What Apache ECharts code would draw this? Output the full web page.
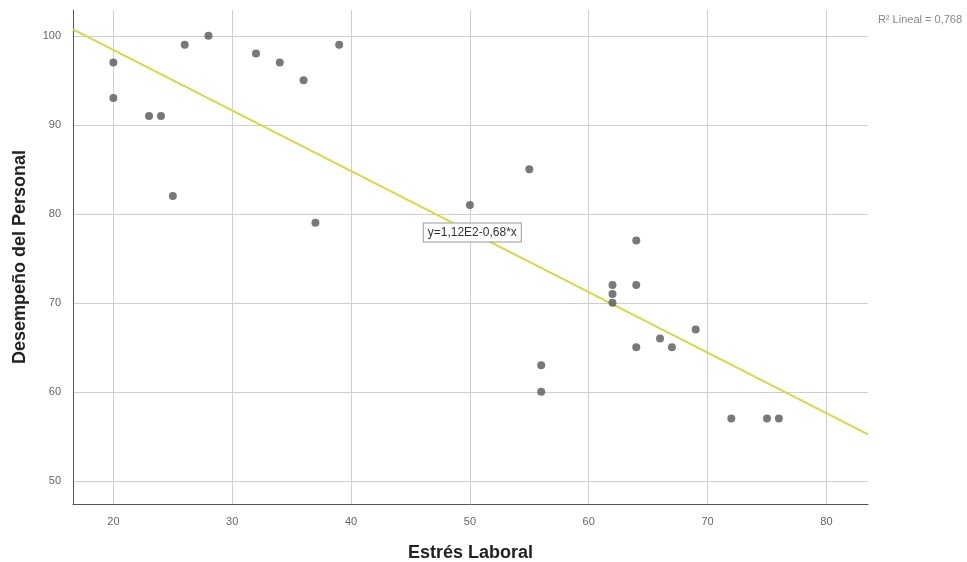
<!DOCTYPE html>
<html>
<head>
<meta charset="utf-8">
<script src="https://cdn.jsdelivr.net/npm/echarts@6/dist/echarts.min.js"></script>
<style>
  html, body { margin: 0; padding: 0; background: #fff; }
  #chart { width: 967px; height: 562px; }
</style>
</head>
<body>
<div id="chart"></div>
<script>
// Estrés laboral (x) vs. desempeño del personal (y)
const estres = [20, 20, 23, 24, 25, 26, 28, 32, 34, 36, 37, 39, 50, 55, 56, 56, 62, 62, 62, 64, 64, 64, 66, 67, 69, 72, 75, 76];
const desempeno = [97, 93, 91, 91, 82, 99, 100, 98, 97, 95, 79, 99, 81, 85, 63, 60, 72, 71, 70, 77, 72, 65, 66, 65, 67, 57, 57, 57];

// Linear fit y = a + b*x
const intercept = 112;
const slope = -0.68;
const r2Text = 'R² Lineal = 0,768';
const eqText = 'y=1,12E2-0,68*x';

const xTicks = [20, 30, 40, 50, 60, 70, 80];
const yTicks = [50, 60, 70, 80, 90, 100];
const xMin = 16.6, xMax = 83.5;
const yMin = 47.4, yMax = 102.9;

const points = estres.map((x, i) => [x, desempeno[i]]);
const fitLine = [xMin, xMax].map(x => [x, intercept + slope * x]);

const labelFont = '"Liberation Sans Narrow", "Liberation Sans", Arial, sans-serif';
const titleFont = '"Liberation Sans", Arial, sans-serif';

const chart = echarts.init(document.getElementById('chart'));
chart.setOption({
  animation: false,
  grid: { left: 73, right: 99, top: 10, bottom: 58, containLabel: false, outerBoundsMode: 'none' },
  xAxis: {
    type: 'value',
    min: xMin, max: xMax,
    name: 'Estrés Laboral',
    nameLocation: 'middle',
    nameGap: 40,
    nameTextStyle: { fontFamily: titleFont, fontWeight: 'bold', fontSize: 18, color: '#222' },
    axisLine: { show: true, lineStyle: { color: '#555', width: 1 } },
    axisTick: { show: false },
    axisLabel: {
      color: '#666', fontSize: 11, fontFamily: labelFont, margin: 12,
      customValues: xTicks
    },
    splitLine: { show: true, showMinLine: false, showMaxLine: false, lineStyle: { color: '#cfcfcf', width: 1 } },
    customValues: xTicks
  },
  yAxis: {
    type: 'value',
    min: yMin, max: yMax,
    name: 'Desempeño del Personal',
    nameLocation: 'middle',
    nameGap: 44,
    nameTextStyle: { fontFamily: titleFont, fontWeight: 'bold', fontSize: 18, color: '#222' },
    axisLine: { show: true, lineStyle: { color: '#555', width: 1 } },
    axisTick: { show: false },
    axisLabel: {
      color: '#666', fontSize: 11, fontFamily: labelFont, margin: 12,
      customValues: yTicks
    },
    splitLine: { show: true, showMinLine: false, showMaxLine: false, lineStyle: { color: '#cfcfcf', width: 1 } },
    customValues: yTicks
  },
  graphic: [{
    type: 'text',
    right: 5, top: 14,
    style: { text: r2Text, fill: '#888', fontSize: 11, fontFamily: labelFont }
  }],
  series: [
    {
      type: 'line',
      data: fitLine,
      showSymbol: false,
      symbol: 'none',
      lineStyle: { color: '#d6d940', width: 2 },
      z: 2,
      markPoint: {
        symbol: 'rect',
        symbolSize: 0,
        data: [{ coord: [50.2, 77.9] }],
        label: {
          show: true,
          position: 'inside',
          formatter: eqText,
          color: '#333',
          fontSize: 12,
          fontFamily: labelFont,
          backgroundColor: '#fff',
          borderColor: '#999',
          borderWidth: 1,
          padding: [3, 4]
        }
      }
    },
    {
      type: 'scatter',
      data: points,
      symbolSize: 8,
      itemStyle: { color: '#575757' },
      z: 3
    }
  ]
});
</script>
</body>
</html>
